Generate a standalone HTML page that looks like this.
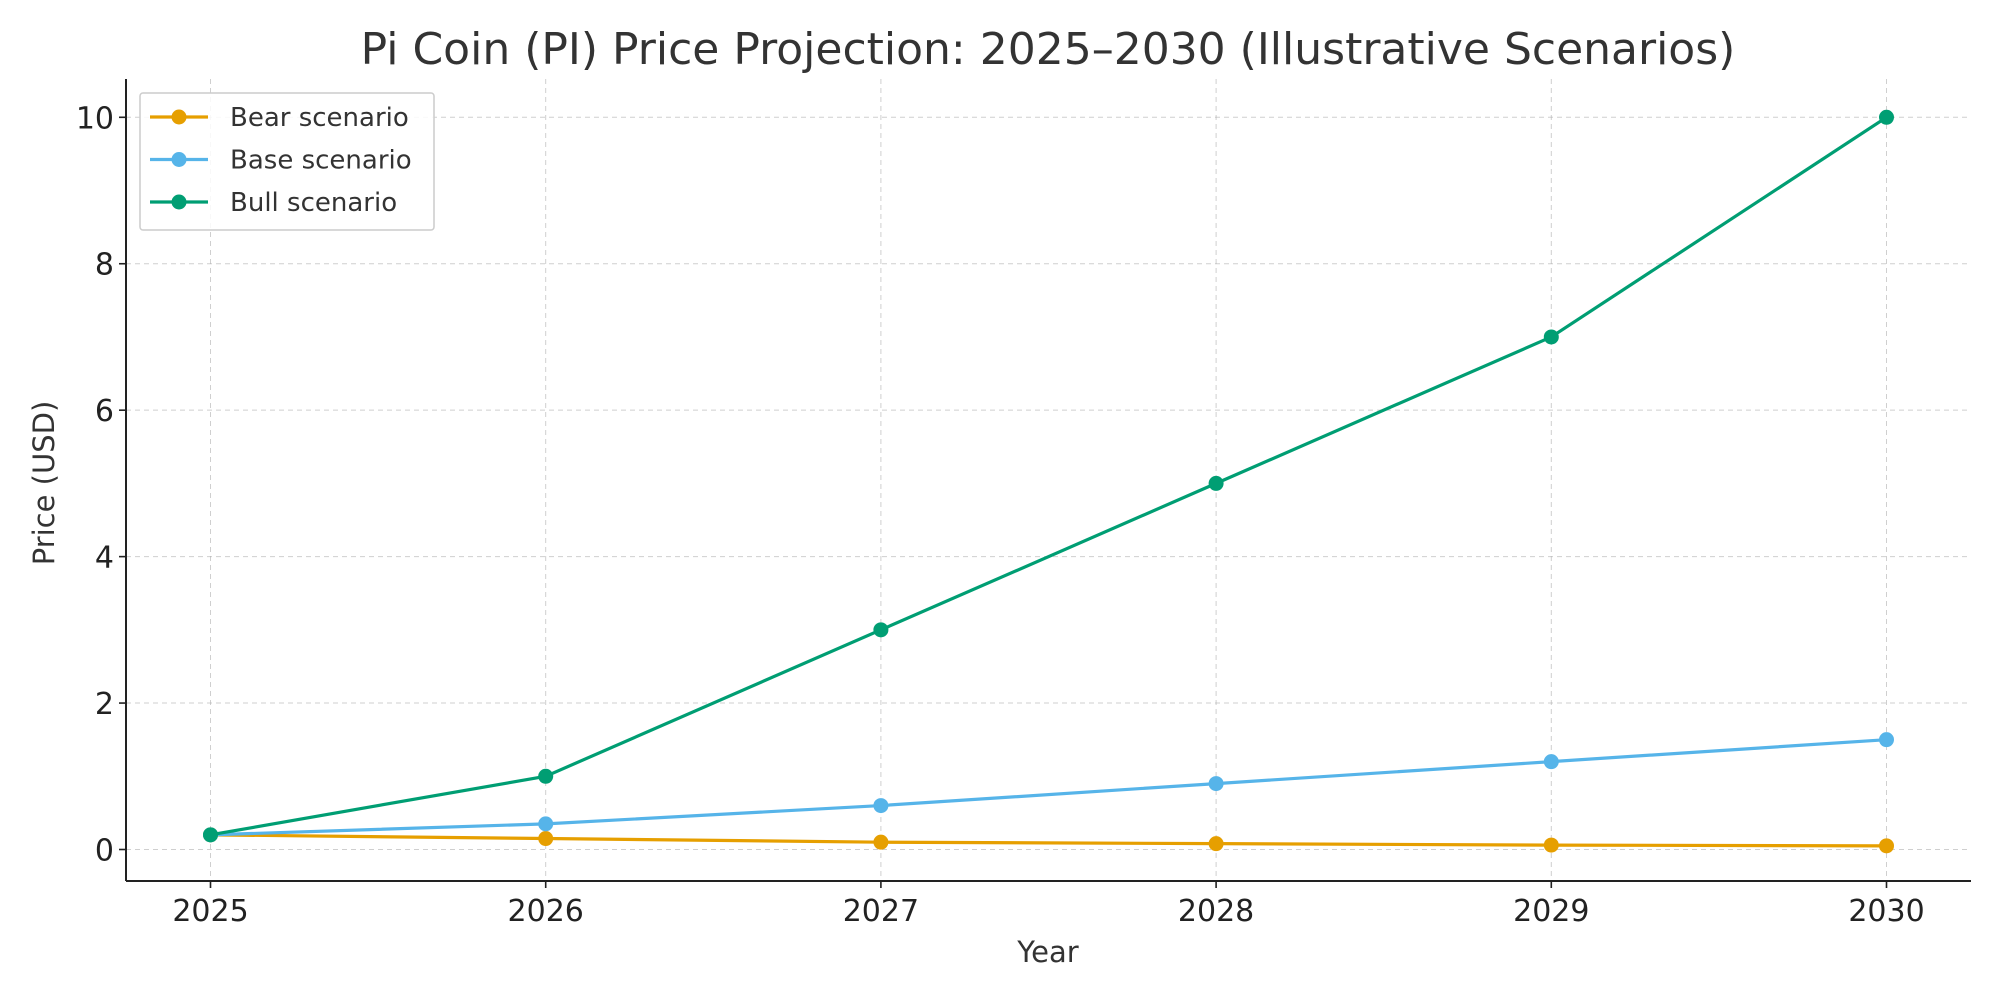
<!DOCTYPE html>
<html><head><meta charset="utf-8"><style>
body{margin:0;background:#fff;}
svg{display:block;font-family:"DejaVu Sans","Liberation Sans",sans-serif;}
</style></head><body>
<svg id="chart" width="2000" height="1000" viewBox="0 0 2000 1000" xmlns="http://www.w3.org/2000/svg">
<rect width="2000" height="1000" fill="#fff"/>
<text x="1048" y="64" font-size="44" fill="#333" text-anchor="middle">Pi Coin (PI) Price Projection: 2025–2030 (Illustrative Scenarios)</text>
<g id="grid"></g>
<g id="axes"></g>
<g id="series"></g>
<text x="1048" y="962" font-size="29" fill="#333" text-anchor="middle">Year</text>
<text transform="translate(54,483) rotate(-90)" font-size="29" fill="#333" text-anchor="middle">Price (USD)</text>
<g id="legend">
<rect x="140" y="93" width="294" height="137" fill="#fff" fill-opacity="0.85" stroke="#ccc" stroke-width="1.5" rx="3"/>
</g>
</svg>
<script>
const years = [2025, 2026, 2027, 2028, 2029, 2030];
const bear = [0.2, 0.15, 0.1, 0.08, 0.06, 0.05];
const base = [0.2, 0.35, 0.6, 0.9, 1.2, 1.5];
const bull = [0.2, 1, 3, 5, 7, 10];
const yTicks = [0, 2, 4, 6, 8, 10];
const seriesNames = ["Bear scenario", "Base scenario", "Bull scenario"];

const NS = "http://www.w3.org/2000/svg";
const L = 126, R = 1971, T = 79, B = 881;
function xs(v){ return 210.5 + (v - 2025) * (1886.5 - 210.5) / 5; }
function ys(v){ return 849.5 - v * (849.5 - 117.3) / 10; }
function mk(tag, attrs, parent){ const e = document.createElementNS(NS, tag); for (const k in attrs) e.setAttribute(k, attrs[k]); parent.appendChild(e); return e; }

const grid = document.getElementById('grid');
const axes = document.getElementById('axes');
years.forEach(y => {
  const g = mk('line', {x1: xs(y), x2: xs(y), y1: T, y2: B, stroke: '#b0b0b0', 'stroke-width': 1, 'stroke-dasharray': '5,4', opacity: 0.6}, grid);
  
  
  const t = mk('line', {x1: xs(y), x2: xs(y), y1: B, y2: B + 7, stroke: '#222', 'stroke-width': 1.6}, axes);
  
  
  const lb = mk('text', {x: xs(y), y: 921, 'font-size': 30, fill: '#222', 'text-anchor': 'middle'}, axes);
  lb.textContent = y;
  
  
});
yTicks.forEach(v => {
  const g = mk('line', {x1: L, x2: R, y1: ys(v), y2: ys(v), stroke: '#b0b0b0', 'stroke-width': 1, 'stroke-dasharray': '5,4', opacity: 0.6}, grid);
  
  
  const t = mk('line', {x1: L - 7, x2: L, y1: ys(v), y2: ys(v), stroke: '#222', 'stroke-width': 1.6}, axes);
  
  
  const lb = mk('text', {x: L - 12, y: ys(v) + 11, 'font-size': 30, fill: '#222', 'text-anchor': 'end'}, axes);
  lb.textContent = v;
  
  
});
const sl = mk('line', {x1: L, x2: L, y1: T, y2: B, stroke: '#222', 'stroke-width': 2}, axes);


const sb = mk('line', {x1: L, x2: R, y1: B, y2: B, stroke: '#222', 'stroke-width': 2}, axes);



const colors = ['#E69F00', '#56B4E9', '#009E73'];
const data = [bear, base, bull];
const seriesG = document.getElementById('series');
const legend = document.getElementById('legend');
data.forEach((arr, i) => {
  const g = mk('g', {}, seriesG);
  
  
  const pts = arr.map((v, j) => xs(years[j]) + ',' + ys(v)).join(' ');
  const pl = mk('polyline', {points: pts, fill: 'none', stroke: colors[i], 'stroke-width': 3.2, 'stroke-linejoin': 'round'}, g);
  
  
  arr.forEach((v, j) => {
    const c = mk('circle', {cx: xs(years[j]), cy: ys(v), r: 7.5, fill: colors[i]}, g);
    
    
  });
  const ly = 117 + i * 42.5;
  const le = mk('g', {}, legend);
  
  
  mk('line', {x1: 150, x2: 208, y1: ly, y2: ly, stroke: colors[i], 'stroke-width': 3.2}, le);
  mk('circle', {cx: 179, cy: ly, r: 7.5, fill: colors[i]}, le);
  const tx = mk('text', {x: 230, y: ly + 9, 'font-size': 26, fill: '#333'}, le);
  tx.textContent = seriesNames[i];
});
</script>
</body></html>
